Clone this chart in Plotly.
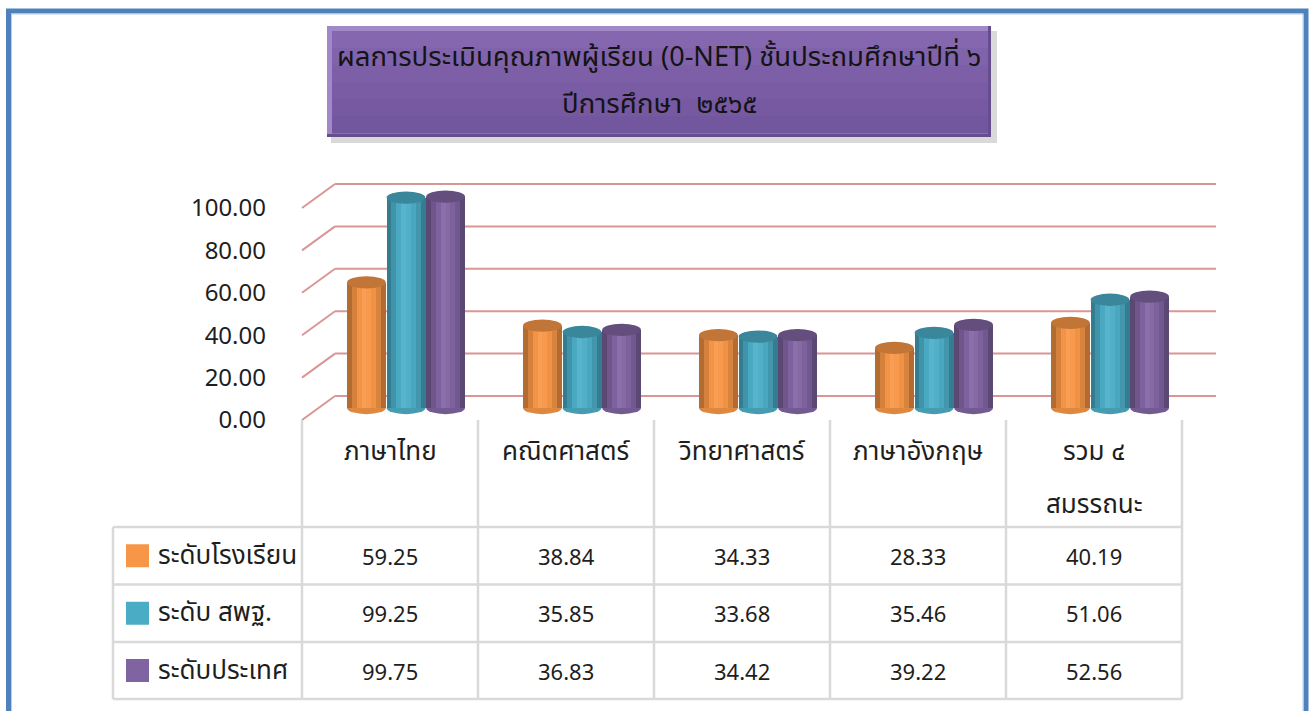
import plotly.graph_objects as go

# ---------------- data ----------------
categories = ["ภาษาไทย", "คณิตศาสตร์", "วิทยาศาสตร์", "ภาษาอังกฤษ", "รวม ๔\nสมรรถนะ"]
series_names = ["ระดับโรงเรียน", "ระดับ สพฐ.", "ระดับประเทศ"]
school = [59.25, 38.84, 34.33, 28.33, 40.19]
obec = [99.25, 35.85, 33.68, 35.46, 51.06]
national = [99.75, 36.83, 34.42, 39.22, 52.56]
y_ticks = [0, 20, 40, 60, 80, 100]
title_line1 = ["ผลการประเมินคุณภาพผู้เรียน (", "0-NET)", " ชั้นประถมศึกษาปีที่ ๖"]
title_line2 = "ปีการศึกษา  ๒๕๖๕"

series_values = [school, obec, national]
series_colors = ["#F79646", "#4BACC6", "#8064A2"]

# ---------------- geometry helpers ----------------
W, H = 1313, 711
def px(p):
    return p / W
def py(p):
    return 1 - p / H

FONT = "Noto Sans Thai, Leelawadee UI, Tahoma, Noto Sans, sans-serif"
NUMFONT = "Noto Sans, Open Sans, sans-serif"
TXT = "#1e1e1e"
THAI_SIZE = 26
cat_keys = [c.replace("\n", " ") for c in categories]

def shade(hexc, f):
    r, g, b = int(hexc[1:3], 16), int(hexc[3:5], 16), int(hexc[5:7], 16)
    if f <= 1:
        r, g, b = r * f, g * f, b * f
    else:
        t = f - 1
        r, g, b = r + (255 - r) * t, g + (255 - g) * t, b + (255 - b) * t
    return "rgb(%d,%d,%d)" % (round(r), round(g), round(b))

fig = go.Figure()

# cylinders built from vertical strips
bar_w = 0.22
offsets = [-0.335, -0.11, 0.115]
strip_f = [0.72, 0.86, 0.98, 1.08, 1.04, 0.97, 0.88, 0.72]
n = len(strip_f)
for s in range(3):
    for j, f in enumerate(strip_f):
        fig.add_trace(go.Bar(
            x=cat_keys, y=series_values[s],
            width=bar_w / n + 0.002, offset=offsets[s] + j * bar_w / n,
            marker=dict(color=shade(series_colors[s], f), line=dict(width=0)),
            showlegend=False, hoverinfo="skip", xaxis="x", yaxis="y"))

# dummy trace for tick axis
fig.add_trace(go.Scatter(x=[], y=[], xaxis="x", yaxis="y2", showlegend=False))

shapes = []
annotations = []

# blue frame
shapes.append(dict(type="rect", xref="paper", yref="paper", x0=px(8.5), x1=px(1306), y0=py(740), y1=py(11),
                   line=dict(color="#4F81BD", width=5), layer="below"))
shapes.append(dict(type="rect", xref="paper", yref="paper", x0=px(11.5), x1=px(1303), y0=py(740), y1=py(14),
                   line=dict(color="#B9CDE5", width=1), layer="below"))

# grid lines on back wall + diagonal side wall
grid_c = "rgb(217,150,148)"
for v in y_ticks:
    yb = 396 - 2.12 * v
    yf = 420 - 2.12 * v
    shapes.append(dict(type="line", xref="paper", yref="paper", x0=px(335), x1=px(1216), y0=py(yb), y1=py(yb),
                       line=dict(color=grid_c, width=2), layer="below"))
    shapes.append(dict(type="line", xref="paper", yref="paper", x0=px(302), x1=px(335), y0=py(yf), y1=py(yb),
                       line=dict(color=grid_c, width=2), layer="below"))

# cylinder bottoms and tops
cap_h = 2.9
for s in range(3):
    for i, v in enumerate(series_values[s]):
        x0 = i + offsets[s]
        x1 = x0 + bar_w
        shapes.append(dict(type="circle", xref="x", yref="y", x0=x0, x1=x1, y0=-cap_h, y1=cap_h,
                           fillcolor=shade(series_colors[s], 0.9), line=dict(width=0), layer="below"))
        shapes.append(dict(type="circle", xref="x", yref="y", x0=x0, x1=x1, y0=v - cap_h, y1=v + cap_h,
                           fillcolor=shade(series_colors[s], 0.78), line=dict(width=0), layer="above"))

# table lines
tbl_c = "#D9D9D9"
col_x = [302 + 176 * k for k in range(6)]
for xk in col_x:
    shapes.append(dict(type="line", xref="paper", yref="paper", x0=px(xk), x1=px(xk), y0=py(420), y1=py(699),
                       line=dict(color=tbl_c, width=2.5)))
shapes.append(dict(type="line", xref="paper", yref="paper", x0=px(113), x1=px(113), y0=py(527), y1=py(699),
                   line=dict(color=tbl_c, width=2.5)))
row_y = [527, 584.5, 642, 699]
for yk in row_y:
    shapes.append(dict(type="line", xref="paper", yref="paper", x0=px(113), x1=px(col_x[-1]), y0=py(yk), y1=py(yk),
                       line=dict(color=tbl_c, width=2.5)))

# category labels
for k, c in enumerate(categories):
    cx = col_x[k] + 88
    for li, line in enumerate(c.split("\n")):
        annotations.append(dict(text=line, x=px(cx), y=py(452 + 53 * li), xref="paper", yref="paper",
                                showarrow=False, xanchor="center", yanchor="middle",
                                font=dict(family=FONT, size=THAI_SIZE, color=TXT)))

# table rows: legend keys + values
for s in range(3):
    cy = (row_y[s] + row_y[s + 1]) / 2
    shapes.append(dict(type="rect", xref="paper", yref="paper", x0=px(126), x1=px(149), y0=py(cy + 11.5), y1=py(cy - 11.5),
                       fillcolor=series_colors[s], line=dict(width=0)))
    annotations.append(dict(text=series_names[s], x=px(156), y=py(cy), xref="paper", yref="paper",
                            showarrow=False, xanchor="left", yanchor="middle",
                            font=dict(family=FONT, size=THAI_SIZE, color=TXT)))
    for k, v in enumerate(series_values[s]):
        annotations.append(dict(text="%.2f" % v, x=px(col_x[k] + 88), y=py(cy), xref="paper", yref="paper",
                                showarrow=False, xanchor="center", yanchor="middle",
                                font=dict(family=NUMFONT, size=22, color=TXT)))

# title box
shapes.append(dict(type="rect", xref="paper", yref="paper", x0=px(331), x1=px(997), y0=py(143), y1=py(31),
                   fillcolor="rgba(0,0,0,0.15)", line=dict(width=0)))
shapes.append(dict(type="rect", xref="paper", yref="paper", x0=px(327), x1=px(991), y0=py(137), y1=py(26),
                   fillcolor="#664D8E", line=dict(width=0)))
shapes.append(dict(type="rect", xref="paper", yref="paper", x0=px(327), x1=px(988), y0=py(134), y1=py(26),
                   fillcolor="#A089C6", line=dict(width=0)))
band_cols = ["#8467AE", "#8063AB", "#7C5FA7", "#795CA4", "#7659A1", "#73579E"]
top, bot = 31, 133
bh = (bot - top) / len(band_cols)
for b, col in enumerate(band_cols):
    shapes.append(dict(type="rect", xref="paper", yref="paper", x0=px(332), x1=px(988),
                       y0=py(top + bh * (b + 1) + 0.5), y1=py(top + bh * b),
                       fillcolor=col, line=dict(width=0)))

t1 = (title_line1[0] + "<span style='font-family:Noto Sans, sans-serif;font-size:27px'>" + title_line1[1]
      + "</span>" + title_line1[2])
annotations.append(dict(text=t1, x=px(659), y=py(58), xref="paper", yref="paper", showarrow=False,
                        xanchor="center", yanchor="middle", font=dict(family=FONT, size=27.5, color="#141414")))
annotations.append(dict(text=title_line2, x=px(659), y=py(104), xref="paper", yref="paper", showarrow=False,
                        xanchor="center", yanchor="middle", font=dict(family=FONT, size=27.5, color="#141414")))

fig.update_layout(
    width=W, height=H, autosize=False,
    margin=dict(l=0, r=0, t=0, b=0, pad=0, autoexpand=False),
    paper_bgcolor="white", plot_bgcolor="rgba(0,0,0,0)",
    barmode="overlay", bargap=0,
    showlegend=False,
    xaxis=dict(domain=[px(318), px(1198)], range=[-0.5, 4.5], showticklabels=False, showgrid=False,
               zeroline=False, showline=False, ticks="", anchor="y", fixedrange=True, automargin=False),
    yaxis=dict(domain=[py(408 + 2.12 * 4), py(408 - 2.12 * 110)], range=[-4, 110], visible=False,
               fixedrange=True, automargin=False),
    yaxis2=dict(domain=[py(420), py(208)], range=[0, 100], tickvals=y_ticks, tickformat=".2f",
                anchor="free", position=px(266), side="left", showgrid=False, zeroline=False, showline=False,
                ticks="", tickfont=dict(family=NUMFONT, size=24, color=TXT), fixedrange=True, automargin=False),
    shapes=shapes, annotations=annotations,
)

fig.write_html("out.html", config={"displayModeBar": False},
               post_script="document.body.style.margin='0';document.body.style.overflow='hidden';")
